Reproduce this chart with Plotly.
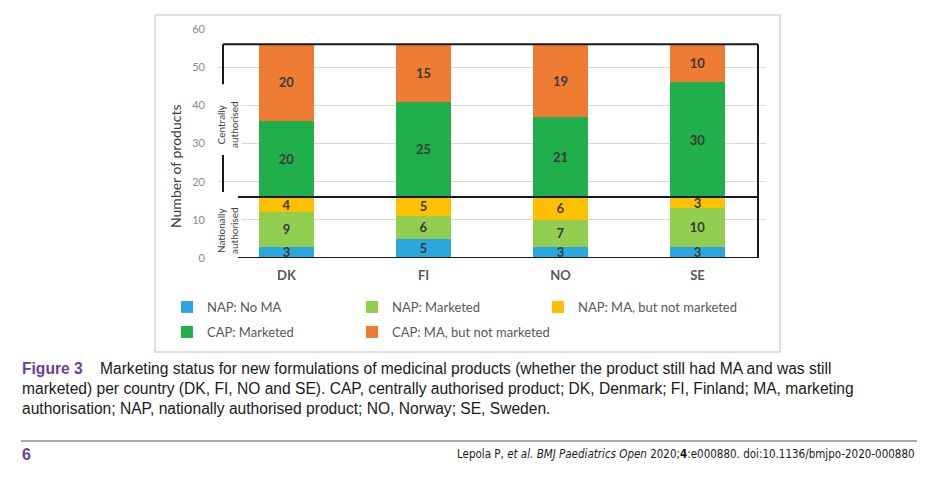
import plotly.graph_objects as go

countries = ["DK", "FI", "NO", "SE"]
nap_no_ma = [3, 5, 3, 3]
nap_marketed = [9, 6, 7, 10]
nap_ma_not_marketed = [4, 5, 6, 3]
cap_marketed = [20, 25, 21, 30]
cap_ma_not_marketed = [20, 15, 19, 10]

series = [
    ("NAP: No MA", nap_no_ma, "#2BA7E0", "legend"),
    ("NAP: Marketed", nap_marketed, "#92CF50", "legend2"),
    ("NAP: MA, but not marketed", nap_ma_not_marketed, "#FFC000", "legend3"),
    ("CAP: Marketed", cap_marketed, "#1FAF4B", "legend4"),
    ("CAP: MA, but not marketed", cap_ma_not_marketed, "#EE7D33", "legend5"),
]

OFF = 8  # page body margin
W, H = 926 - OFF, 480 - OFF
L, R, T, B = 218, 766, 29, 258  # plot area in page px


def px_x(p):
    return (p - L) / (R - L)


def px_y(p):
    return (B - p) / (B - T)


FONT = "Lato, Open Sans, sans-serif"

fig = go.Figure()
for name, vals, col, lg in series:
    fig.add_trace(go.Bar(
        x=countries, y=vals, name=name, marker=dict(color=col, line=dict(width=0)),
        text=[str(v) for v in vals], textposition="inside", insidetextanchor="middle",
        textangle=0, constraintext="none",
        textfont=dict(family=FONT, size=13, color="#3A3A3A", weight="bold"),
        legend=lg, hoverinfo="skip",
    ))

leg_common = dict(orientation="v", bgcolor="rgba(0,0,0,0)", borderwidth=0,
                  font=dict(family=FONT, size=13, color="#595959"),
                  xanchor="left", yanchor="middle", xref="paper", yref="paper")
row1, row2 = px_y(307), px_y(332)
c1, c2, c3 = px_x(207 - 40), px_x(392 - 40), px_x(578 - 40)

shapes = []
shapes.append(dict(type="rect", xref="paper", yref="paper", x0=px_x(155), x1=px_x(780),
                   y0=px_y(352), y1=px_y(15), line=dict(color="#D6D6D6", width=1.5),
                   fillcolor="rgba(0,0,0,0)", layer="below"))
blk = dict(color="#1A1A1A", width=2)
total = 56
nap_total = 16
xl_top, xl_bot, xr = px_x(223), px_x(238), px_x(758)
shapes += [
    dict(type="line", xref="paper", yref="y", x0=xl_top, x1=xr, y0=total, y1=total, line=blk),
    dict(type="line", xref="paper", yref="y", x0=xr, x1=xr, y0=0, y1=total, line=blk),
    dict(type="line", xref="paper", yref="y", x0=xl_bot, x1=xr, y0=nap_total, y1=nap_total, line=blk),
    dict(type="line", xref="paper", yref="y", x0=xl_bot, x1=xr, y0=0, y1=0, line=blk),
    dict(type="line", xref="paper", yref="y", x0=xl_top, x1=xl_top, y0=45.5, y1=total, line=blk),
    dict(type="line", xref="paper", yref="y", x0=xl_top, x1=xl_top, y0=17.3, y1=27, line=blk),
    dict(type="line", xref="paper", yref="paper", x0=px_x(21), x1=px_x(917),
         y0=px_y(441), y1=px_y(441), line=dict(color="#555555", width=1)),
]

purple = "#6A3F98"
cap_font = dict(family="Liberation Sans, Arial, sans-serif", size=15.6, color="#1A1A1A")
cap_lines = [
    f"<b><span style='color:{purple}'>Figure 3</span></b>\u00a0\u00a0\u00a0 Marketing status for new formulations of medicinal products (whether the product still had MA and was still",
    "marketed) per country (DK, FI, NO and SE). CAP, centrally authorised product; DK, Denmark; FI, Finland; MA, marketing",
    "authorisation; NAP, nationally authorised product; NO, Norway; SE, Sweden.",
]
annotations = []
for i, t in enumerate(cap_lines):
    annotations.append(dict(text=t, xref="paper", yref="paper", x=px_x(20), y=px_y(368 + 20 * i),
                            xanchor="left", yanchor="middle", showarrow=False, font=cap_font, align="left"))

annotations += [
    dict(text="Number of products", xref="paper", yref="paper", x=px_x(175), y=px_y(166),
         textangle=-90, showarrow=False, xanchor="center", yanchor="middle",
         font=dict(family=FONT, size=14, color="#404040")),
    dict(text="Centrally<br>authorised", xref="paper", yref="paper", x=px_x(227), y=px_y(125),
         textangle=-90, showarrow=False, xanchor="center", yanchor="middle", bgcolor="white",
         font=dict(family=FONT, size=10, color="#404040")),
    dict(text="Nationally<br>authorised", xref="paper", yref="paper", x=px_x(227), y=px_y(231),
         textangle=-90, showarrow=False, xanchor="center", yanchor="middle", bgcolor="white",
         font=dict(family=FONT, size=10, color="#404040")),
    dict(text="<b>6</b>", xref="paper", yref="paper", x=px_x(20), y=px_y(454),
         xanchor="left", yanchor="middle", showarrow=False,
         font=dict(family="Liberation Sans, Arial, sans-serif", size=16, color=purple)),
    dict(text="Lepola P, <i>et al. BMJ Paediatrics Open</i> 2020;<b>4</b>:e000880. doi:10.1136/bmjpo-2020-000880",
         xref="paper", yref="paper", x=px_x(917), y=px_y(454), xanchor="right", yanchor="middle",
         showarrow=False,
         font=dict(family="DejaVu Sans Condensed, Liberation Sans Narrow, sans-serif", size=11.5, color="#1A1A1A")),
]

fig.update_layout(
    width=W, height=H, barmode="stack", bargap=0.6,
    margin=dict(l=L - OFF, r=W - (R - OFF), t=T - OFF, b=H - (B - OFF), pad=0),
    paper_bgcolor="white", plot_bgcolor="white",
    showlegend=True,
    legend=dict(x=c1, y=row1, **leg_common),
    legend2=dict(x=c2, y=row1, **leg_common),
    legend3=dict(x=c3, y=row1, **leg_common),
    legend4=dict(x=c1, y=row2, **leg_common),
    legend5=dict(x=c2, y=row2, **leg_common),
    xaxis=dict(showgrid=False, showline=False, zeroline=False, ticks="", ticklabelstandoff=8,
               tickfont=dict(family=FONT, size=13, color="#595959", weight="bold"), fixedrange=True),
    yaxis=dict(range=[0, 60], dtick=10, showgrid=True, gridcolor="#D9D9D9", gridwidth=1,
               zeroline=False, showline=False, ticks="", ticklabelstandoff=12,
               tickfont=dict(family=FONT, size=11, color="#8C8C8C"), fixedrange=True),
    shapes=shapes, annotations=annotations,
)

fig.write_html("out.html")
